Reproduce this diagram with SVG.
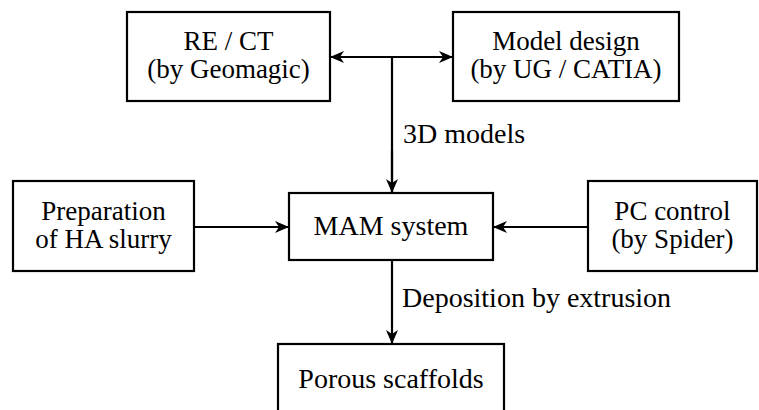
<svg xmlns="http://www.w3.org/2000/svg" width="759" height="410" viewBox="0 0 759 410">
<defs>
<marker id="ah" viewBox="0 0 14 12" refX="13" refY="6" markerWidth="14" markerHeight="12" markerUnits="userSpaceOnUse" orient="auto-start-reverse">
<path d="M0,0 L14,6 L0,12 L4,6 Z" fill="#000"/>
</marker>
</defs>
<rect width="759" height="410" fill="#fff"/>
<g id="connectors" fill="none" stroke="#000" stroke-width="2.2">
<line x1="331" y1="57" x2="452" y2="57" marker-start="url(#ah)" marker-end="url(#ah)"/>
<line x1="392" y1="57" x2="392" y2="192"/>
<line x1="392" y1="150" x2="392" y2="192" marker-end="url(#ah)"/>
<line x1="194" y1="227" x2="288" y2="227" marker-end="url(#ah)"/>
<line x1="588" y1="227" x2="494" y2="227" marker-end="url(#ah)"/>
<line x1="392" y1="261" x2="392" y2="343" marker-end="url(#ah)"/>
</g>
<g id="labels">
<text x="403" y="143" style="font-family:'Liberation Serif'" font-size="28" fill="#000">3D models</text>
<text x="402" y="307" style="font-family:'Liberation Serif'" font-size="28" fill="#000">Deposition by extrusion</text>
</g>
<g id="re-ct">
<rect x="127" y="12" width="203" height="89" fill="#fff" stroke="#000" stroke-width="2.2"/>
<text x="228.5" y="50" style="font-family:'Liberation Serif'" font-size="27" text-anchor="middle">RE / CT</text>
<text x="228.5" y="78" style="font-family:'Liberation Serif'" font-size="27" text-anchor="middle">(by Geomagic)</text>
</g>
<g id="model-design">
<rect x="453" y="12" width="226" height="89" fill="#fff" stroke="#000" stroke-width="2.2"/>
<text x="566" y="50" style="font-family:'Liberation Serif'" font-size="27" text-anchor="middle">Model design</text>
<text x="566" y="78" style="font-family:'Liberation Serif'" font-size="27" text-anchor="middle">(by UG / CATIA)</text>
</g>
<g id="preparation">
<rect x="13" y="181" width="181" height="90" fill="#fff" stroke="#000" stroke-width="2.2"/>
<text x="103.5" y="220" style="font-family:'Liberation Serif'" font-size="27" text-anchor="middle">Preparation</text>
<text x="103.5" y="248" style="font-family:'Liberation Serif'" font-size="27" text-anchor="middle">of HA slurry</text>
</g>
<g id="mam">
<rect x="289" y="193" width="204" height="67" fill="#fff" stroke="#000" stroke-width="2.2"/>
<text x="391" y="235" style="font-family:'Liberation Serif'" font-size="28" text-anchor="middle">MAM system</text>
</g>
<g id="pc-control">
<rect x="588" y="181" width="169" height="90" fill="#fff" stroke="#000" stroke-width="2.2"/>
<text x="672.5" y="220" style="font-family:'Liberation Serif'" font-size="27" text-anchor="middle">PC control</text>
<text x="672.5" y="248" style="font-family:'Liberation Serif'" font-size="27" text-anchor="middle">(by Spider)</text>
</g>
<g id="porous">
<rect x="278" y="344" width="226" height="80" fill="#fff" stroke="#000" stroke-width="2.2"/>
<text x="391" y="388" style="font-family:'Liberation Serif'" font-size="28" text-anchor="middle">Porous scaffolds</text>
</g>
</svg>
